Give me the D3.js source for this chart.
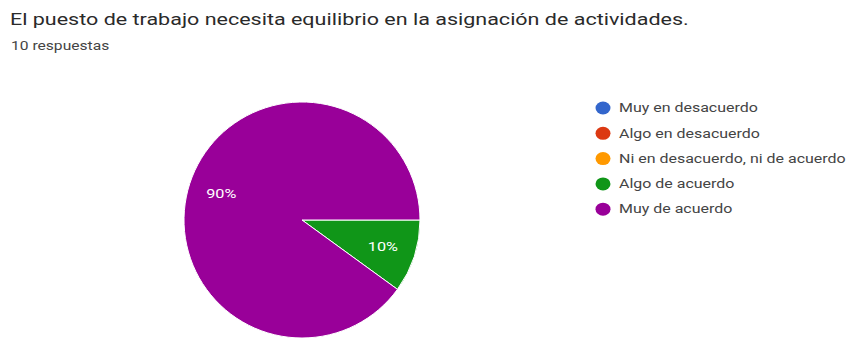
<!DOCTYPE html>
<html>
<head>
<meta charset="utf-8">
<script src="https://d3js.org/d3.v7.min.js"></script>
<style>
  body { margin: 0; background: #fff; font-family: Roboto, Arial, sans-serif; }
</style>
</head>
<body>
<div id="chart"></div>
<script>
// datos
const categorias = ["Muy en desacuerdo", "Algo en desacuerdo", "Ni en desacuerdo, ni de acuerdo", "Algo de acuerdo", "Muy de acuerdo"];
const respuestas = [0, 0, 0, 1, 9];
const colores = ["#3366cc", "#dc3912", "#ff9900", "#109618", "#990099"];
const titulo = "El puesto de trabajo necesita equilibrio en la asignación de actividades.";
const subtitulo = "10 respuestas";

const width = 854, height = 340;
const cx = 302, cy = 220, radius = 118;

const svg = d3.select("#chart").append("svg")
    .attr("width", width)
    .attr("height", height);

// la imagen original está algo estirada a lo ancho
function estirar(sel, k) {
    sel.each(function() {
        const w = this.getComputedTextLength();
        d3.select(this).attr("textLength", w * k).attr("lengthAdjust", "spacingAndGlyphs");
    });
}

svg.append("text")
    .attr("x", 10).attr("y", 25)
    .attr("font-size", 17)
    .attr("fill", "#2a2a2a")
    .text(titulo)
    .call(estirar, 1.265);

svg.append("text")
    .attr("x", 11).attr("y", 50)
    .attr("font-size", 12)
    .attr("fill", "#444")
    .text(subtitulo)
    .call(estirar, 1.3);

const datos = categorias.map((c, i) => ({ cat: c, val: respuestas[i], color: colores[i] }));
const total = d3.sum(respuestas);

const pie = d3.pie().sort(null).value(d => d.val)
    .startAngle(Math.PI / 2).endAngle(Math.PI / 2 + 2 * Math.PI);
const arc = d3.arc().innerRadius(0).outerRadius(radius);
const arcLabel = d3.arc().innerRadius(radius * 0.72).outerRadius(radius * 0.72);

const g = svg.append("g").attr("transform", `translate(${cx},${cy})`);
const arcos = pie(datos).filter(d => d.data.val > 0);

g.selectAll("path").data(arcos).enter().append("path")
    .attr("d", arc)
    .attr("fill", d => d.data.color)
    .attr("stroke", "#fff")
    .attr("stroke-width", 1);

g.selectAll("text").data(arcos).enter().append("text")
    .attr("transform", d => `translate(${arcLabel.centroid(d)})`)
    .attr("x", -15)
    .attr("dy", "0.35em")
    .attr("font-size", 12.5)
    .attr("fill", "#fff")
    .text(d => Math.round(d.data.val / total * 100) + "%")
    .call(estirar, 1.3);

// leyenda
const ley = svg.append("g").attr("transform", "translate(603,108)");
const item = ley.selectAll("g").data(datos).enter().append("g")
    .attr("transform", (d, i) => `translate(0,${i * 25.3})`);
item.append("ellipse").attr("rx", 7.5).attr("ry", 6.5).attr("fill", d => d.color);
item.append("text")
    .attr("x", 16).attr("dy", "0.35em")
    .attr("font-size", 12)
    .attr("fill", "#444")
    .text(d => d.cat)
    .call(estirar, 1.33);
</script>
</body>
</html>
